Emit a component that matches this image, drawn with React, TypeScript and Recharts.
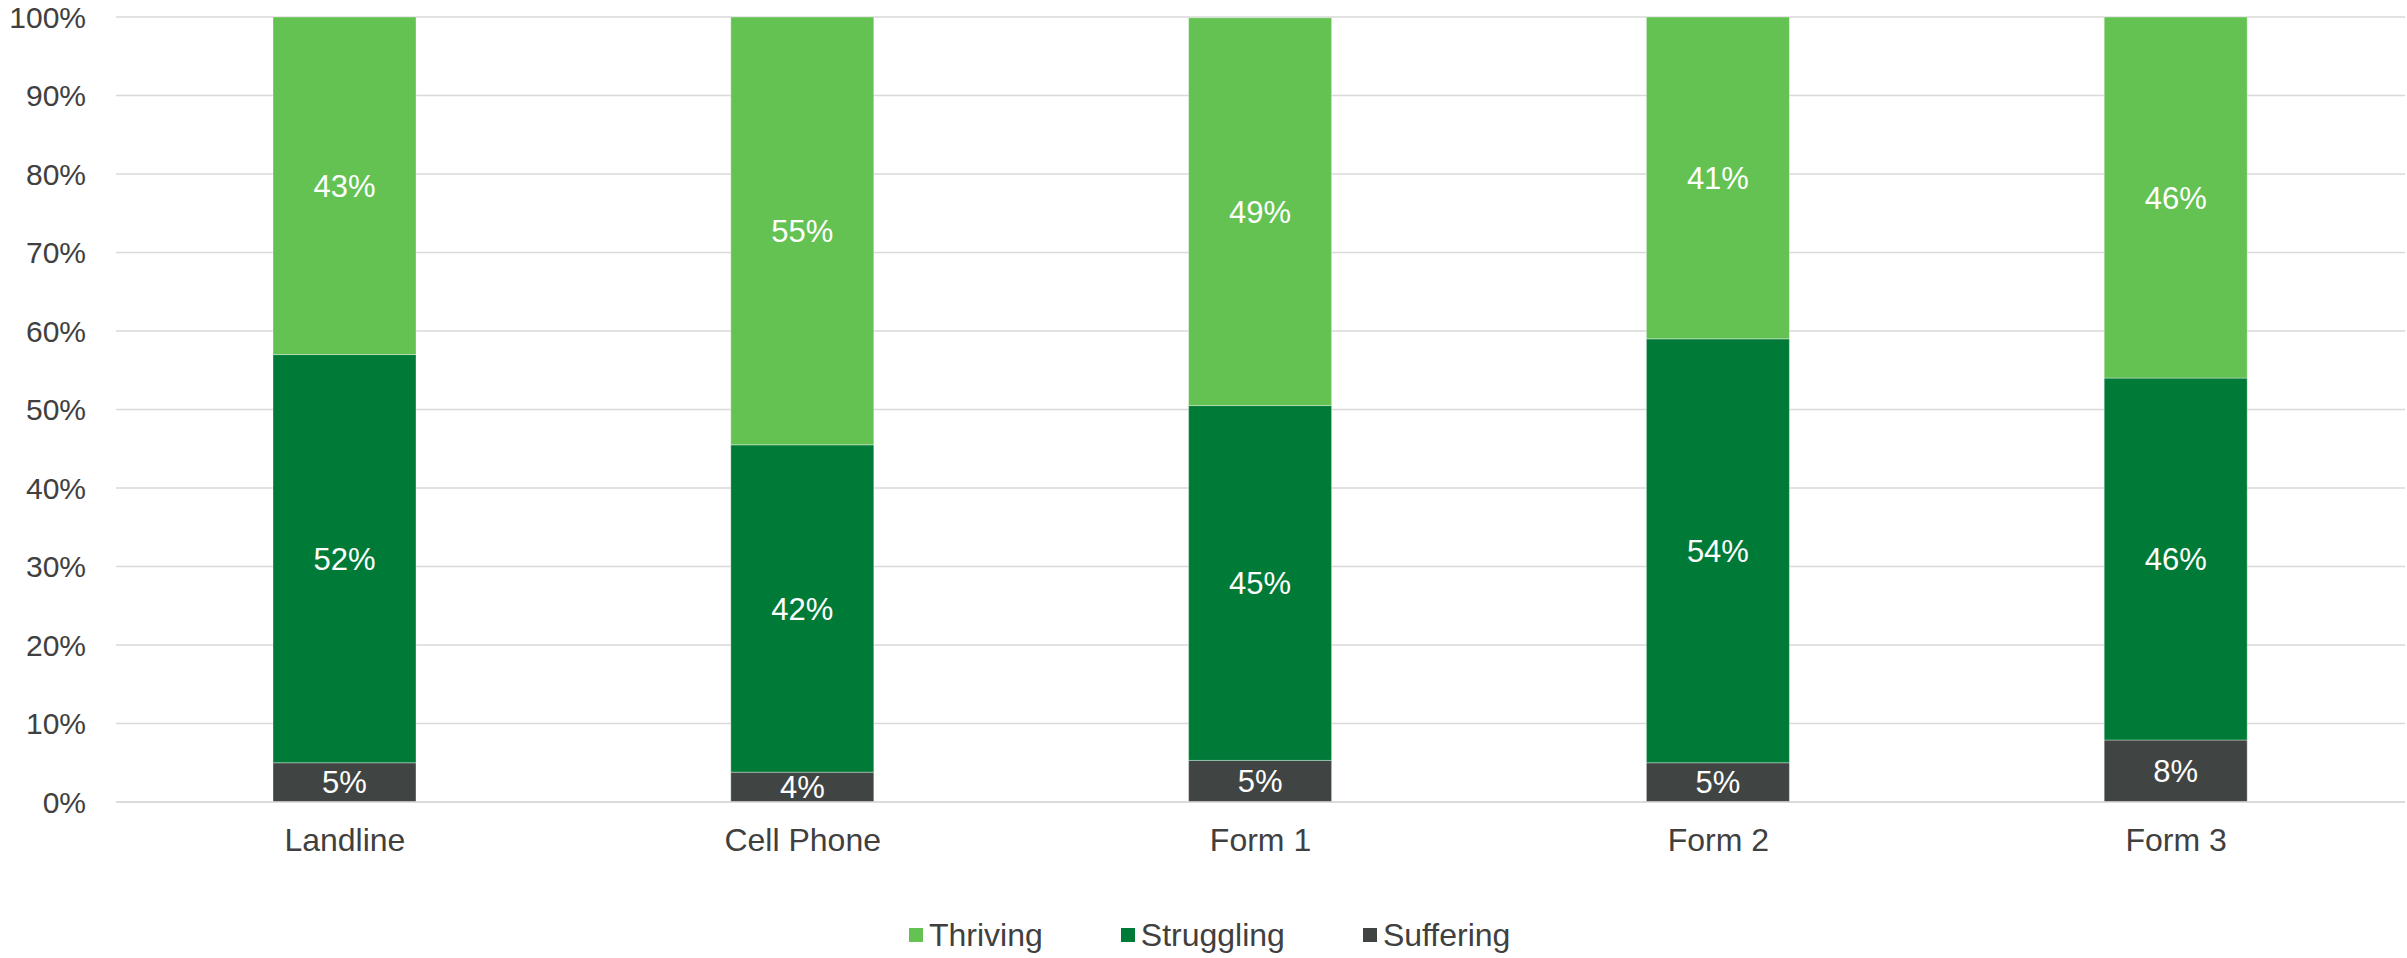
import React from "react";
import { BarChart, Bar, XAxis, YAxis, CartesianGrid, Legend, LabelList } from "recharts";

// Survey groups and share of respondents (%) in each wellbeing band
const groups = ["Landline", "Cell Phone", "Form 1", "Form 2", "Form 3"];
const suffering = [5.0, 3.8, 5.3, 5.0, 7.9];
const struggling = [52.0, 41.7, 45.2, 54.0, 46.1];
const thriving = [43.0, 54.5, 49.4, 41.0, 46.0];
const yTicks = [0, 10, 20, 30, 40, 50, 60, 70, 80, 90, 100];

const series = [
  { key: "suffering", name: "Suffering", color: "#404544" },
  { key: "struggling", name: "Struggling", color: "#007a37" },
  { key: "thriving", name: "Thriving", color: "#63c252" },
];

const data = groups.map((g, i) => ({
  group: g,
  suffering: suffering[i],
  struggling: struggling[i],
  thriving: thriving[i],
}));

const font = "'Liberation Sans', Arial, sans-serif";
const yTickStyle = { fontSize: 30, fill: "#404040", fontFamily: font };
const xTickStyle = { fontSize: 32, fill: "#404040", fontFamily: font };

// legend order in the picture is top segment first
const legendOrder = ["thriving", "struggling", "suffering"];

function ChartLegend() {
  return (
    <div style={{ height: 46, display: "flex", alignItems: "center", paddingLeft: 909 }}>
      {legendOrder.map((k) => {
        const s = series.find((x) => x.key === k)!;
        return (
          <div key={k} style={{ display: "flex", alignItems: "center", marginRight: 78 }}>
            <span style={{ width: 14, height: 14, background: s.color, display: "inline-block", marginRight: 6 }} />
            <span style={{ fontSize: 32, color: "#404040", fontFamily: font, lineHeight: 1 }}>{s.name}</span>
          </div>
        );
      })}
    </div>
  );
}

export default function App() {
  return (
    <div style={{ position: "absolute", left: 0, top: 0, background: "#fff" }}>
      <BarChart width={2407} height={958} data={data} margin={{ top: 17, right: 2, left: 0, bottom: 0 }}>
        <CartesianGrid vertical={false} stroke="#d9d9d9" strokeWidth={1.5} />
        <XAxis
          dataKey="group"
          height={110}
          tick={xTickStyle}
          tickLine={false}
          tickSize={0}
          tickMargin={26}
          axisLine={{ stroke: "#d9d9d9", strokeWidth: 1.5 }}
        />
        <YAxis
          width={116}
          domain={[0, 100]}
          ticks={yTicks}
          tick={yTickStyle}
          tickLine={false}
          tickSize={0}
          tickMargin={30}
          axisLine={false}
          tickFormatter={(v: number) => `${v}%`}
        />
        <Legend verticalAlign="bottom" height={46} content={<ChartLegend />} />
        {series.map((s) => (
          <Bar
            key={s.key}
            dataKey={s.key}
            name={s.name}
            stackId="a"
            fill={s.color}
            barSize={143}
            stroke="#ffffff"
            strokeOpacity={0.35}
            strokeWidth={1}
            isAnimationActive={false}
          >
            <LabelList
              dataKey={s.key}
              position="center"
              fill="#ffffff"
              fontSize={31}
              fontFamily={font}
              formatter={(v: any) => `${Math.round(Number(v))}%`}
            />
          </Bar>
        ))}
      </BarChart>
    </div>
  );
}
